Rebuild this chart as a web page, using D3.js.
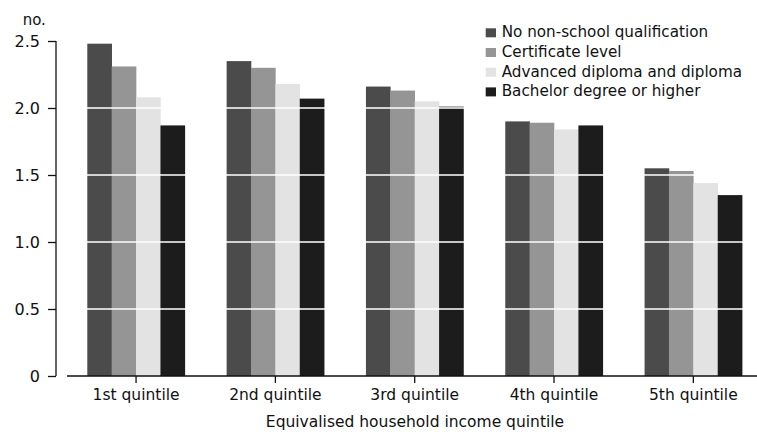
<!DOCTYPE html>
<html><head><meta charset="utf-8">
<script src="https://cdn.jsdelivr.net/npm/d3@7"></script>
<style>body{margin:0;background:#fff}svg{display:block}text{font-family:"DejaVu Sans",sans-serif;fill:#111}</style>
</head><body><svg id="c" width="757" height="432"></svg>
<script>
const categories = ["1st quintile","2nd quintile","3rd quintile","4th quintile","5th quintile"];
const seriesNames = ["No non-school qualification","Certificate level","Advanced diploma and diploma","Bachelor degree or higher"];
const noNonSchool = [2.48, 2.35, 2.16, 1.90, 1.55];
const certificate = [2.31, 2.30, 2.13, 1.89, 1.53];
const advDiploma = [2.08, 2.18, 2.05, 1.84, 1.44];
const bachelor = [1.87, 2.07, 2.01, 1.87, 1.35];
const yTicks = [0, 0.5, 1.0, 1.5, 2.0, 2.5];
const colors = ["#4b4b4b","#959595","#e3e3e3","#1c1c1c"];
const series = [noNonSchool, certificate, advDiploma, bachelor];
const FONT = "DejaVu Sans, sans-serif";

const svg = d3.select("#c");
const y = d3.scaleLinear().domain([0,2.5]).range([376,41]);
const x = d3.scaleBand().domain(categories).range([66.4,763]).paddingInner(0.3).paddingOuter(0.15);
const xs = d3.scaleBand().domain(d3.range(4)).range([0,x.bandwidth()]);

const rows = [];
categories.forEach((c,i)=>series.forEach((s,j)=>rows.push({c,j,v:s[i]})));
svg.append("g").selectAll("rect").data(rows).join("rect")
  .attr("x",d=>x(d.c)+xs(d.j)).attr("width",xs.bandwidth()+0.3)
  .attr("y",d=>y(d.v)).attr("height",d=>y(0)-y(d.v))
  .attr("fill",d=>colors[d.j]);

// white gridlines over bars
svg.append("g").selectAll("line").data(yTicks.filter(t=>t>0)).join("line")
  .attr("x1",67).attr("x2",757).attr("y1",d=>y(d)).attr("y2",d=>y(d))
  .attr("stroke","#fff").attr("stroke-width",1.3);

// y axis
const ya = svg.append("g").attr("transform","translate(56,0)")
  .call(d3.axisLeft(y).tickValues(yTicks).tickSize(8).tickPadding(8)
    .tickFormat(d=>d===0?"0":d3.format(".1f")(d)));
ya.attr("font-family",FONT).attr("font-size",16);
ya.select(".domain").attr("d","M0,"+y(2.5)+"V"+y(0)).attr("stroke","#111").attr("stroke-width",1.3);
ya.selectAll(".tick line").attr("stroke","#111").attr("stroke-width",1.3);
ya.selectAll(".tick text").attr("fill","#111");

// x axis
const xa = svg.append("g").attr("transform","translate(0,376)")
  .call(d3.axisBottom(x).tickSize(7).tickPadding(6));
xa.attr("font-family",FONT).attr("font-size",15.5);
xa.select(".domain").attr("d","M67,0H757").attr("stroke","#111").attr("stroke-width",1.5);
xa.selectAll(".tick line").attr("stroke","#111").attr("stroke-width",1.3);
xa.selectAll(".tick text").attr("fill","#111");

svg.append("text").attr("x",34.3).attr("y",25).attr("text-anchor","middle").attr("font-size",15).text("no.");
svg.append("text").attr("x",415).attr("y",427).attr("text-anchor","middle").attr("font-size",15.5).text("Equivalised household income quintile");

// legend
const lg = svg.append("g").attr("transform","translate(485.7,28.3)");
seriesNames.forEach((n,i)=>{
  const g = lg.append("g").attr("transform",`translate(0,${i*19.7})`);
  g.append("rect").attr("width",10.3).attr("height",9).attr("fill",colors[i]);
  g.append("text").attr("x",16).attr("y",9).attr("font-size",15.2).text(n);
});
</script></body></html>
